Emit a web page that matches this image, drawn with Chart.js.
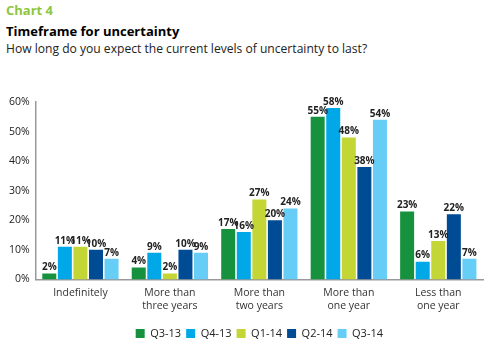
<!DOCTYPE html>
<html>
<head>
<meta charset="utf-8">
<script src="https://cdn.jsdelivr.net/npm/chart.js@4.4.0/dist/chart.umd.min.js"></script>
<style>
  html,body{margin:0;padding:0;background:#fff;}
  body{width:485px;height:347px;position:relative;overflow:hidden;font-family:"Open Sans","DejaVu Sans",sans-serif;}
  #c4{position:absolute;left:6px;top:1px;font-size:13px;font-weight:bold;color:#8dc63f;}
  #t{position:absolute;left:6px;top:22px;font-size:13px;font-weight:bold;color:#000;}
  #s{position:absolute;left:6px;top:40px;font-size:12.1px;color:#222;}
  #wrap{position:absolute;left:0;top:0;width:485px;height:347px;}
</style>
</head>
<body>
<div id="c4">Chart 4</div>
<div id="t">Timeframe for uncertainty</div>
<div id="s">How long do you expect the current levels of uncertainty to last?</div>
<div id="wrap"><canvas id="chart" width="485" height="347"></canvas></div>
<script>
const categories = [["Indefinitely"], ["More than","three years"], ["More than","two years"], ["More than","one year"], ["Less than","one year"]];
const seriesNames = ["Q3-13", "Q4-13", "Q1-14", "Q2-14", "Q3-14"];
const q3_13 = [2, 4, 17, 55, 23];
const q4_13 = [11, 9, 16, 58, 6];
const q1_14 = [11, 2, 27, 48, 13];
const q2_14 = [10, 10, 20, 38, 22];
const q3_14 = [7, 9, 24, 54, 7];
const yTicks = [0, 10, 20, 30, 40, 50, 60];
const colors = ["#16923f", "#00a8e8", "#c3d635", "#004c94", "#66cdf6"];
const seriesValues = [q3_13, q4_13, q1_14, q2_14, q3_14];

const labelPlugin = {
  id: 'valueLabels',
  afterDatasetsDraw(chart) {
    const ctx = chart.ctx;
    ctx.save();
    ctx.font = 'bold 10px "Open Sans", "DejaVu Sans", sans-serif';
    ctx.fillStyle = '#222';
    ctx.textAlign = 'center';
    ctx.textBaseline = 'bottom';
    chart.data.datasets.forEach((ds, i) => {
      const meta = chart.getDatasetMeta(i);
      meta.data.forEach((bar, j) => {
        ctx.fillText(ds.data[j] + '%', bar.x, bar.y - 1);
      });
    });
    ctx.restore();
  }
};

new Chart(document.getElementById('chart'), {
  type: 'bar',
  data: {
    labels: categories,
    datasets: seriesNames.map((n, i) => ({
      label: n,
      data: seriesValues[i],
      backgroundColor: colors[i],
      borderWidth: 0,
      categoryPercentage: 0.87,
      barPercentage: 0.9
    }))
  },
  plugins: [labelPlugin],
  options: {
    responsive: false,
    animation: false,
    layout: { padding: { top: 102, left: 3, right: 2, bottom: -2 } },
    scales: {
      x: {
        grid: { display: false, drawTicks: false },
        border: { display: true, color: '#999', width: 1.5 },
        afterFit(scale) { scale.height += 4; },
        ticks: { color: '#333', font: { size: 10.5, lineHeight: 1.22, family: '"Open Sans", "DejaVu Sans", sans-serif' }, padding: 7, maxRotation: 0, autoSkip: false }
      },
      y: {
        min: 0, max: 60,
        afterBuildTicks(axis) { axis.ticks = yTicks.map(v => ({ value: v })); },
        grid: { display: false, drawTicks: false },
        border: { display: true, color: '#999', width: 1.5 },
        ticks: { color: '#222', font: { size: 10.5, family: '"Open Sans", "DejaVu Sans", sans-serif' }, padding: 6, callback: v => v + '%' }
      }
    },
    plugins: {
      legend: {
        position: 'bottom',
        fullSize: false,
        labels: { boxWidth: 9, boxHeight: 9, padding: 5, color: '#222', font: { size: 11, family: '"Open Sans", "DejaVu Sans", sans-serif' } }
      },
      tooltip: { enabled: false }
    }
  }
});
</script>
</body>
</html>
